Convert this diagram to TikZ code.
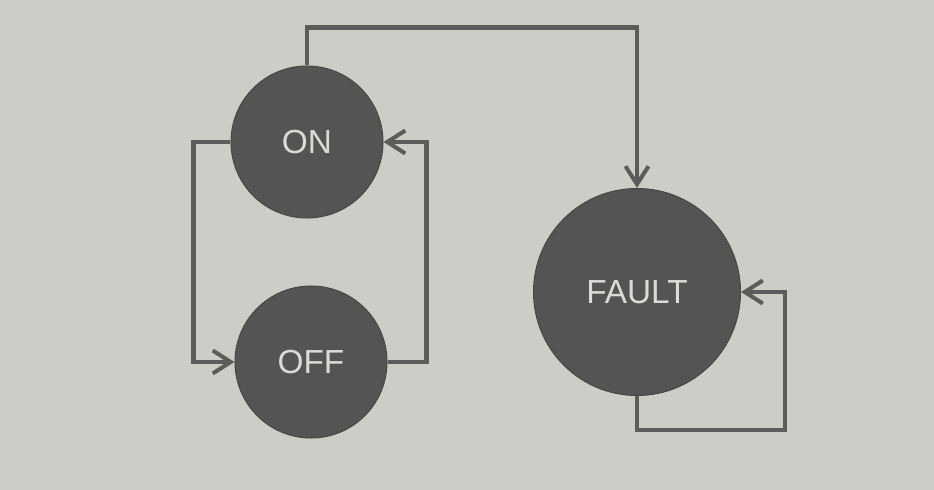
\documentclass[tikz,border=0pt]{standalone}
\usepackage{fontspec}
\setmainfont{Liberation Sans}
\usepackage{xcolor}
\definecolor{paper}{RGB}{205,205,200}
\definecolor{statefill}{RGB}{84,84,82}
\definecolor{linegray}{RGB}{92,92,90}
\definecolor{textgray}{RGB}{218,218,215}
\usepackage{tikz}
\usetikzlibrary{positioning,arrows.meta}

\begin{document}
\begin{tikzpicture}[x=0.02cm,y=-0.02cm, % one unit per pixel
    state/.style={circle, fill=statefill, draw=statefill!85!black, line width=0.6pt,
                  minimum size=3.04cm, inner sep=0pt, text=textgray,
                  font=\fontsize{19}{22}\selectfont},
    bigstate/.style={state, minimum size=4.14cm},
    link/.style={draw=linegray, line width=2.3pt,
                 -{Straight Barb[length=3.6mm,width=4.6mm,line width=2.3pt]}}]
                % Paper background
                \useasboundingbox[fill=paper] (0,0) rectangle (934,490);
                % Draw the states as dark discs
                \node[state] (on) at (307,142) {ON};
                \node[state] (off) at (311,362) {OFF};
                \node[bigstate] (fault) at (637,292) {FAULT};
                \coordinate (loop) at (785,430);

                % Draw the transitions between states
                \draw[link] (on.north) -- ++(0,-38) -| (fault.north);
                \draw[link] (on.west) -- ++(-37,0) |- (off.west);
                \draw[link] (off.east) -- ++(39,0) |- (on.east);
                \draw[link] (fault.south) |- (loop) |- (fault.east);
        \end{tikzpicture}
\end{document}
